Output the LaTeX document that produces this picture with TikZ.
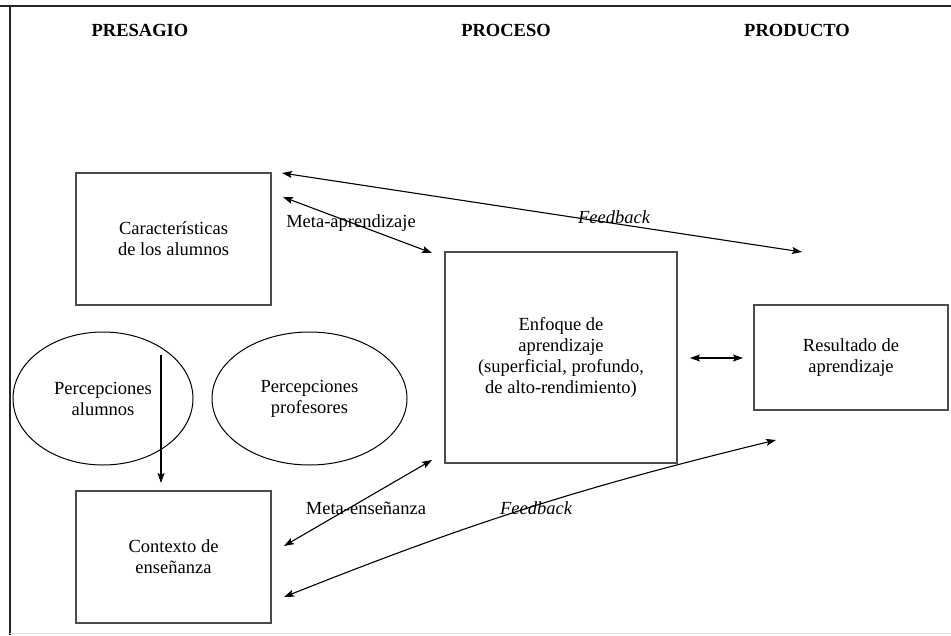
\documentclass[tikz,border=0pt]{standalone}
\usepackage{fontspec}
\setmainfont{Liberation Serif}
\usetikzlibrary{arrows.meta,shapes.geometric}
\begin{document}
\begin{tikzpicture}[x=1pt,y=-1pt,
  every node/.style={font=\fontsize{18.5}{21}\selectfont, inner sep=0pt},
  boxnode/.style={draw=black!70, line width=1.3pt, rectangle, align=center},
  ellnode/.style={draw=black, line width=1pt, ellipse, align=center},
  header/.style={font=\fontsize{18.5}{21}\selectfont\bfseries},
  lbl/.style={font=\fontsize{18.5}{21}\selectfont},
  conn/.style={line width=1.1pt, -{Stealth[length=10pt,width=7pt,inset=2pt]}},
  dconn/.style={line width=1.1pt, {Stealth[length=10pt,width=7pt,inset=2pt]}-{Stealth[length=10pt,width=7pt,inset=2pt]}}
]
\useasboundingbox (0,0) rectangle (951,635);
% frame
\draw[line width=2pt, black!85] (0,6) -- (951,6);
\draw[line width=2pt, black!85] (10,6) -- (10,635);
\draw[line width=0.6pt, black!12] (10,633) -- (951,633);

% headers
\node[header] (hpre) at (140,30) {PRESAGIO};
\node[header] (hpro) at (506,30) {PROCESO};
\node[header] (hprod) at (797,30) {PRODUCTO};

% boxes
\node[boxnode, minimum width=195pt, minimum height=132pt] (car) at (173.5,239) {Características\\de los alumnos};
\node[boxnode, minimum width=195pt, minimum height=132pt] (ctx) at (173.5,557) {Contexto de\\enseñanza};
\node[boxnode, minimum width=232pt, minimum height=211pt] (enf) at (561,357.5) {Enfoque de\\aprendizaje\\(superficial, profundo,\\de alto-rendimiento)};
\node[boxnode, minimum width=194pt, minimum height=105pt] (res) at (851,357.5) {Resultado de\\aprendizaje};

% ellipses
\node[ellnode, minimum width=180pt, minimum height=133pt] (pa) at (103,398.5) {Percepciones\\alumnos};
\node[ellnode, minimum width=195pt, minimum height=133pt] (pp) at (309.5,398.5) {Percepciones\\profesores};

% connector end points
\coordinate (fbA) at (282,173);
\coordinate (fbB) at (802,252);
\coordinate (maA) at (283,197);
\coordinate (maB) at (432,253);
\coordinate (meA) at (432,460);
\coordinate (meB) at (284,546);
\coordinate (fb2A) at (776,440);
\coordinate (fb2B) at (284,597);
\coordinate (erA) at (690,358);
\coordinate (erB) at (743,358);
\coordinate (paA) at (161,355);
\coordinate (paB) at (161,483);

% connectors
\draw[dconn] (fbA) -- (fbB);
\draw[dconn] (maA) -- (maB);
\draw[dconn] (meA) -- (meB);
\draw[dconn] (fb2B) to[bend left=4] (fb2A);
\draw[dconn] (erA) -- (erB);
\draw[conn] (paA) -- (paB);

% labels
\node[lbl] (lma) at (351,223) {Meta-aprendizaje};
\node[lbl] (lfb) at (614,217) {\itshape Feedback};
\node[lbl] (lme) at (366,508) {Meta-enseñanza};
\node[lbl] (lfb2) at (536,508) {\itshape Feedback};
\end{tikzpicture}
\end{document}
